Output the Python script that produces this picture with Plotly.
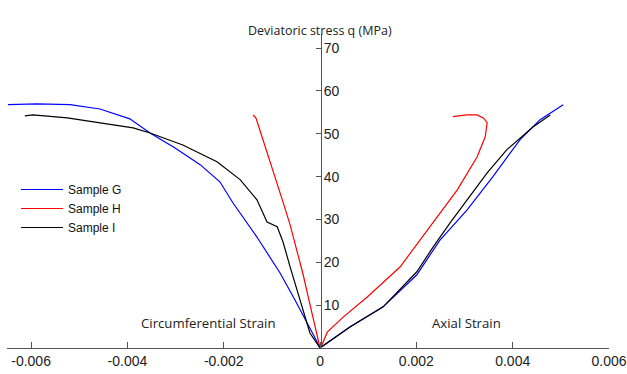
import plotly.graph_objects as go

# Sample G (blue)
g_circ_x = [-0.00648, -0.00588, -0.00519, -0.00457, -0.00395, -0.00353, -0.00301, -0.00249, -0.00208, -0.00181, -0.00131, -0.00083, -0.00052, -0.00027, -0.00010, 0.0]
g_circ_y = [56.8, 57.0, 56.8, 55.8, 53.5, 50.2, 46.7, 42.8, 38.8, 33.9, 25.9, 17.5, 11.2, 6.1, 2.3, 0.0]
g_ax_x = [0.00002, 0.00062, 0.00131, 0.00201, 0.00249, 0.00305, 0.00359, 0.00415, 0.00457, 0.00505]
g_ax_y = [0.2, 4.9, 9.6, 17.1, 25.2, 32.2, 40.0, 48.6, 53.3, 56.8]

# Sample H (red)
h_circ_x = [-0.00139, -0.00133, -0.00125, -0.00108, -0.00091, -0.00077, -0.00062, -0.00048, -0.00035, -0.00023, -0.00012, -0.00004, 0.0]
h_circ_y = [54.4, 53.7, 50.9, 45.1, 39.3, 34.1, 28.7, 22.9, 17.1, 11.2, 6.1, 1.9, 0.0]
h_ax_x = [0.00002, 0.00015, 0.00048, 0.00098, 0.00166, 0.00235, 0.00285, 0.00326, 0.00343, 0.00347, 0.00339, 0.00326, 0.00305, 0.00276]
h_ax_y = [0.2, 3.7, 7.2, 11.9, 18.9, 29.2, 36.9, 44.6, 49.3, 52.6, 53.7, 54.4, 54.4, 54.0]

# Sample I (black)
i_circ_x = [-0.00613, -0.00596, -0.00525, -0.00457, -0.00388, -0.00353, -0.00285, -0.00214, -0.00166, -0.00131, -0.00110, -0.00089, -0.00077, -0.00062, -0.00042, -0.00021, 0.0]
i_circ_y = [54.2, 54.4, 53.7, 52.6, 51.4, 50.2, 47.4, 43.5, 39.3, 34.6, 29.4, 28.3, 24.8, 18.9, 11.2, 3.5, 0.0]
i_ax_x = [0.00002, 0.00062, 0.00131, 0.00201, 0.00235, 0.00270, 0.00305, 0.00347, 0.00388, 0.00442, 0.00478]
i_ax_y = [0.2, 4.9, 9.6, 17.8, 23.6, 29.2, 34.6, 40.9, 46.3, 51.6, 54.4]

names = ["Sample G", "Sample H", "Sample I"]
colors = ["#0000ff", "#ff0000", "#000000"]

x_ticks = [-0.006, -0.004, -0.002, 0, 0.002, 0.004, 0.006]
x_ticktext = ["-0.006", "-0.004", "-0.002", "0", "0.002", "0.004", "0.006"]
y_ticks = [10, 20, 30, 40, 50, 60, 70]

series = [
    (g_circ_x + g_ax_x, g_circ_y + g_ax_y),
    (h_circ_x + h_ax_x, h_circ_y + h_ax_y),
    (i_circ_x + i_ax_x, i_circ_y + i_ax_y),
]

fig = go.Figure()
for (xs, ys), n, c in zip(series, names, colors):
    fig.add_trace(go.Scatter(x=xs, y=ys, mode="lines", name=n,
                             line=dict(color=c, width=1.2)))

W, H = 627, 374
axis_col = "#555555"
fig.update_layout(
    width=W, height=H,
    margin=dict(l=0, r=0, t=0, b=0, autoexpand=False),
    paper_bgcolor="white", plot_bgcolor="white",
    font=dict(family="Liberation Sans, Arial, sans-serif", size=14, color="#222222"),
    xaxis=dict(domain=[7 / W, 609 / W], range=[-0.0065, 0.006],
               tickvals=x_ticks, ticktext=x_ticktext, automargin=False,
               showline=True, linecolor=axis_col, linewidth=1,
               ticks="inside", ticklen=6, tickcolor=axis_col,
               showgrid=False, zeroline=False),
    yaxis=dict(domain=[(H - 348) / H, (H - 34) / H], range=[0, 73.3],
               anchor="free", position=321 / W, side="right",
               tickvals=y_ticks, automargin=False, ticklabelstandoff=-1,
               showline=True, linecolor=axis_col, linewidth=1,
               ticks="inside", ticklen=5, tickcolor=axis_col,
               showgrid=False, zeroline=False),
    legend=dict(x=16 / W, y=(H - 175) / H, xanchor="left", yanchor="top",
                bgcolor="rgba(0,0,0,0)", font=dict(size=12, color="#111111"),
                tracegroupgap=0, itemwidth=42),
    annotations=[
        dict(text="Deviatoric stress q (MPa)", x=320 / W, y=(H - 20) / H,
             xref="paper", yref="paper", showarrow=False,
             font=dict(family="Open Sans, sans-serif", size=12.5, color="#222222")),
        dict(text="Circumferential Strain", x=139 / W, y=(H - 334) / H,
             xref="paper", yref="paper", showarrow=False,
             font=dict(family="Open Sans, sans-serif", size=13.2, color="#222222")),
        dict(text="Axial Strain", x=503 / W, y=(H - 334) / H,
             xref="paper", yref="paper", showarrow=False,
             font=dict(family="Open Sans, sans-serif", size=13.2, color="#222222")),
    ],
)

fig.write_html("out.html")
